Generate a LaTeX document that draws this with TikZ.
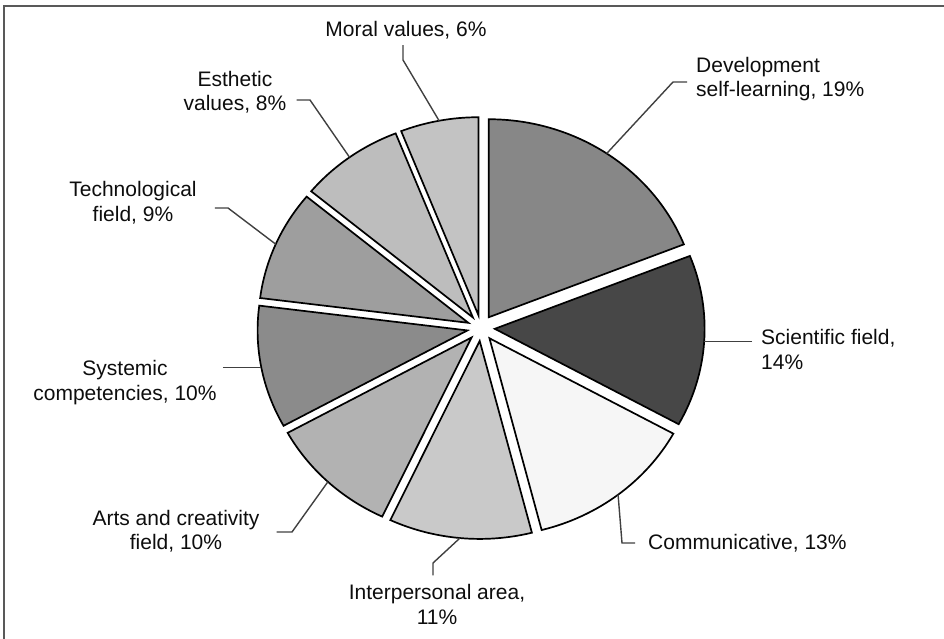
\documentclass[tikz,border=0pt]{standalone}
\usepackage{fontspec}
\setmainfont{Liberation Sans}
\usetikzlibrary{calc}
\definecolor{gdev}{gray}{0.53}
\definecolor{gsci}{gray}{0.28}
\definecolor{gcomm}{gray}{0.965}
\definecolor{gint}{gray}{0.79}
\definecolor{garts}{gray}{0.70}
\definecolor{gsys}{gray}{0.545}
\definecolor{gtech}{gray}{0.62}
\definecolor{gest}{gray}{0.74}
\definecolor{gmoral}{gray}{0.765}

\begin{document}
\begin{tikzpicture}[x=1pt,y=1pt,
	slice/.style={draw=black,line width=1.7pt,line join=miter},
	leader/.style={draw=black!75,line width=1.4pt},
	lbl/.style={font=\fontsize{21}{24.5}\selectfont,text=black!95,inner sep=2pt,align=center},
	frame/.style={draw=black!65,line width=1.5pt}]
	\useasboundingbox (0,0) rectangle (944,639);
	\draw[frame] (4,0) -- (4,633) -- (944,633);
	
	% exploded pie, clockwise from 12 o'clock
	\begin{scope}[shift={(481,311)},xscale=1.06]
		\foreach \n/\a/\b/\c in {dev/90/21.6/gdev,sci/21.6/-28.8/gsci,comm/-28.8/-75.6/gcomm,
			int/-75.6/-115.2/gint,arts/-115.2/-151.2/garts,sys/-151.2/-187.2/gsys,
			tech/-187.2/-219.6/gtech,est/-219.6/-248.4/gest,moral/-248.4/-270/gmoral}
		{
			\pgfmathsetmacro\m{(\a+\b)/2}
			\filldraw[slice,fill=\c] (\m:13) -- ++(\a:198) arc (\a:\b:198) -- cycle;
			\coordinate (p\n) at (\m:211);
		}
	\end{scope}
	
	% labels
	\node[lbl] (lmoral) at (406,609) {Moral values, 6\%};
	\node[lbl] (lest) at (235,547) {Esthetic\\values, 8\%};
	\node[lbl] (ltech) at (133,436.5) {Technological\\field, 9\%};
	\node[lbl,anchor=west,align=left] (ldev) at (694,560) {Development\\self-learning, 19\%};
	\node[lbl,anchor=west,align=left] (lsci) at (759,289.5) {Scientific field,\\14\%};
	\node[lbl,anchor=west] (lcomm) at (646,96) {Communicative, 13\%};
	\node[lbl] (lint) at (437,34.5) {Interpersonal area,\\11\%};
	\node[lbl] (larts) at (176,108) {Arts and creativity\\field, 10\%};
	\node[lbl] (lsys) at (125,256.5) {Systemic\\competencies, 10\%};
	
	% leader bends
	\coordinate (kmoral) at (403,579);
	\coordinate (kest) at (310,539);
	\coordinate (ktech) at (228,431);
	\coordinate (karts) at (292,107);
	\coordinate (kint) at (433,76);
	\coordinate (kcomm) at (622,96);
	\coordinate (kdev) at (673,557);
	
	\draw[leader,shorten <=4pt] (lmoral.south -| kmoral) -- (kmoral) -- (pmoral);
	\draw[leader,shorten <=8pt] (lest.east |- kest) -- (kest) -- (pest);
	\draw[leader,shorten <=16pt] (ltech.east |- ktech) -- (ktech) -- (ptech);
	\draw[leader,shorten <=4pt] (lsys.east |- psys) -- (psys);
	\draw[leader,shorten <=15pt] (larts.east |- karts) -- (karts) -- (parts);
	\draw[leader,shorten <=7pt] (lint.north -| kint) -- (kint) -- (pint);
	\draw[leader,shorten <=11pt] (lcomm.west |- kcomm) -- (kcomm) -- (pcomm);
	\draw[leader,shorten <=7pt] (lsci.west |- psci) -- (psci);
	\draw[leader,shorten <=7pt] (ldev.west |- kdev) -- (kdev) -- (pdev);
\end{tikzpicture}
\end{document}
